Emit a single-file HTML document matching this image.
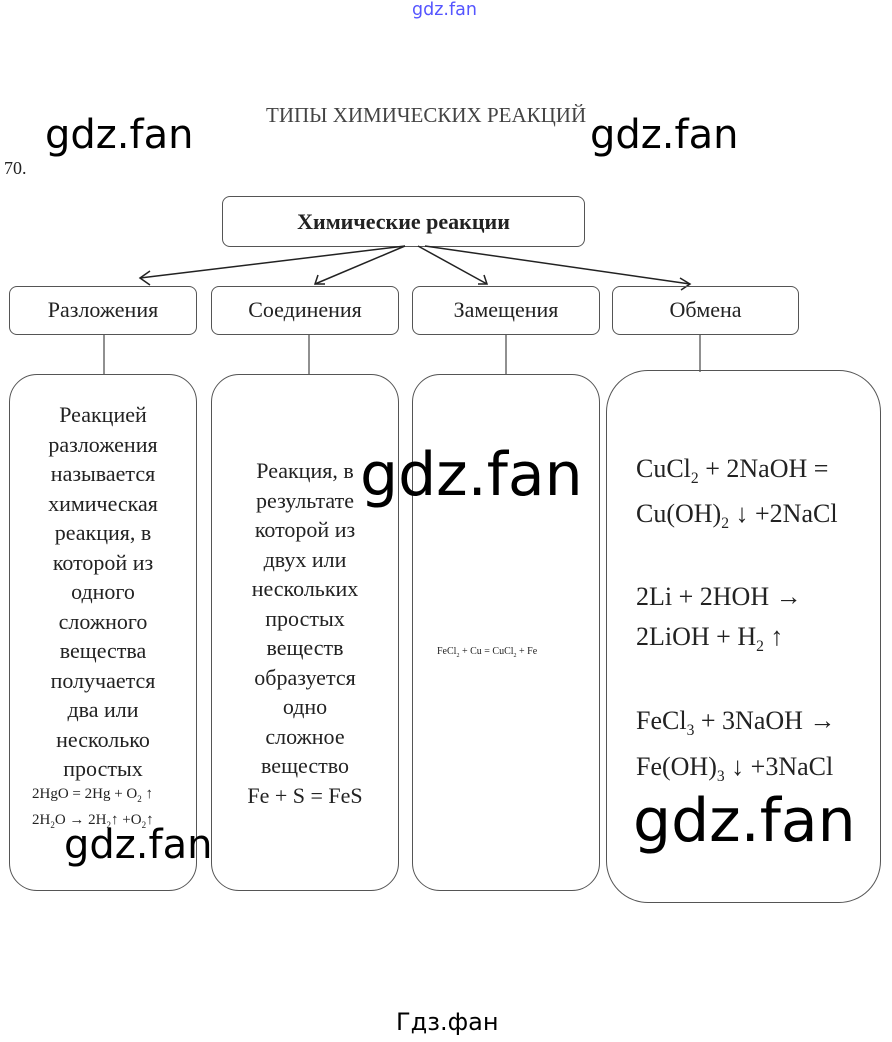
<!DOCTYPE html>
<html><head><meta charset="utf-8"><style>
body{margin:0;width:892px;height:1042px;background:#fff;position:relative;overflow:hidden;font-family:"Liberation Serif",serif;color:#222}
.a{position:absolute;white-space:nowrap}
.box{position:absolute;border:1px solid #555;border-radius:8px;box-sizing:border-box}
.big{position:absolute;border:1px solid #555;border-radius:28px;box-sizing:border-box}
.lbl{font-size:22px;text-align:center;line-height:46px}
.col{position:absolute;text-align:center;font-size:22px;line-height:29.5px}
.wm{position:absolute;font-family:"DejaVu Sans",sans-serif;color:#000;white-space:nowrap}
.f{position:absolute;font-size:26px;white-space:nowrap}
sub{font-size:60%}
</style></head><body>
<div class="a" style="left:412px;top:0px;font-family:'DejaVu Sans',sans-serif;font-size:17.5px;color:#55f">gdz.fan</div>
<div class="a" style="left:266px;top:103px;font-size:21px;color:#444">ТИПЫ ХИМИЧЕСКИХ РЕАКЦИЙ</div>
<div class="a" style="left:4px;top:158px;font-size:18px">70.</div>
<div class="box" style="left:222px;top:196px;width:363px;height:51px"><div style="text-align:center;font-weight:bold;font-size:22px;line-height:50px">Химические реакции</div></div>
<svg class="a" style="left:0;top:0" width="892" height="400">
<g stroke="#222" stroke-width="1.5" fill="none">
<line x1="405" y1="246" x2="140" y2="278"/><polyline points="150,271 140,278 150,285"/>
<line x1="405" y1="246" x2="315" y2="284"/><polyline points="318,275 315,284 325,284"/>
<line x1="418" y1="246" x2="487" y2="284"/><polyline points="478,284 487,284 484,275"/>
<line x1="425" y1="246" x2="690" y2="284"/><polyline points="680,278 690,284 681,290"/>
<line x1="104" y1="334" x2="104" y2="374" stroke-width="1"/>
<line x1="309" y1="334" x2="309" y2="374" stroke-width="1"/>
<line x1="506" y1="334" x2="506" y2="374" stroke-width="1"/>
<line x1="700" y1="334" x2="700" y2="372" stroke-width="1"/>
</g></svg>
<div class="box lbl" style="left:9px;top:286px;width:188px;height:49px">Разложения</div>
<div class="box lbl" style="left:211px;top:286px;width:188px;height:49px">Соединения</div>
<div class="box lbl" style="left:412px;top:286px;width:188px;height:49px">Замещения</div>
<div class="box lbl" style="left:612px;top:286px;width:187px;height:49px">Обмена</div>
<div class="big" style="left:9px;top:374px;width:188px;height:517px"></div>
<div class="big" style="left:211px;top:374px;width:188px;height:517px"></div>
<div class="big" style="left:412px;top:374px;width:188px;height:517px"></div>
<div class="big" style="left:606px;top:370px;width:275px;height:533px;border-radius:42px"></div>
<div class="col" style="left:9px;top:400px;width:188px">Реакцией<br>разложения<br>называется<br>химическая<br>реакция, в<br>которой из<br>одного<br>сложного<br>вещества<br>получается<br>два или<br>несколько<br>простых</div>
<div class="a" style="left:32px;top:786px;font-size:15px">2HgO = 2Hg + O<sub>2</sub> ↑</div>
<div class="a" style="left:32px;top:812px;font-size:15px">2H<sub>2</sub>O → 2H<sub>2</sub>↑ +O<sub>2</sub>↑</div>
<div class="col" style="left:211px;top:456px;width:188px">Реакция, в<br>результате<br>которой из<br>двух или<br>нескольких<br>простых<br>веществ<br>образуется<br>одно<br>сложное<br>вещество<br>Fe + S = FeS</div>
<div class="a" style="left:437px;top:646px;font-size:10px">FeCl<sub>2</sub> + Cu = CuCl<sub>2</sub> + Fe</div>
<div class="f" style="left:636px;top:454px">CuCl<sub>2</sub> + 2NaOH =</div>
<div class="f" style="left:636px;top:499px">Cu(OH)<sub>2</sub> ↓ +2NaCl</div>
<div class="f" style="left:636px;top:582px">2Li + 2HOH →</div>
<div class="f" style="left:636px;top:622px">2LiOH + H<sub>2</sub> ↑</div>
<div class="f" style="left:636px;top:706px">FeCl<sub>3</sub> + 3NaOH →</div>
<div class="f" style="left:636px;top:752px">Fe(OH)<sub>3</sub> ↓ +3NaCl</div>
<div class="wm" style="left:45px;top:112px;font-size:40px">gdz.fan</div>
<div class="wm" style="left:590px;top:112px;font-size:40px">gdz.fan</div>
<div class="wm" style="left:360px;top:440px;font-size:60px">gdz.fan</div>
<div class="wm" style="left:64px;top:822px;font-size:40px">gdz.fan</div>
<div class="wm" style="left:633px;top:786px;font-size:60px">gdz.fan</div>
<div class="wm" style="left:396px;top:1008px;font-size:24px">Гдз.фан</div>
</body></html>
